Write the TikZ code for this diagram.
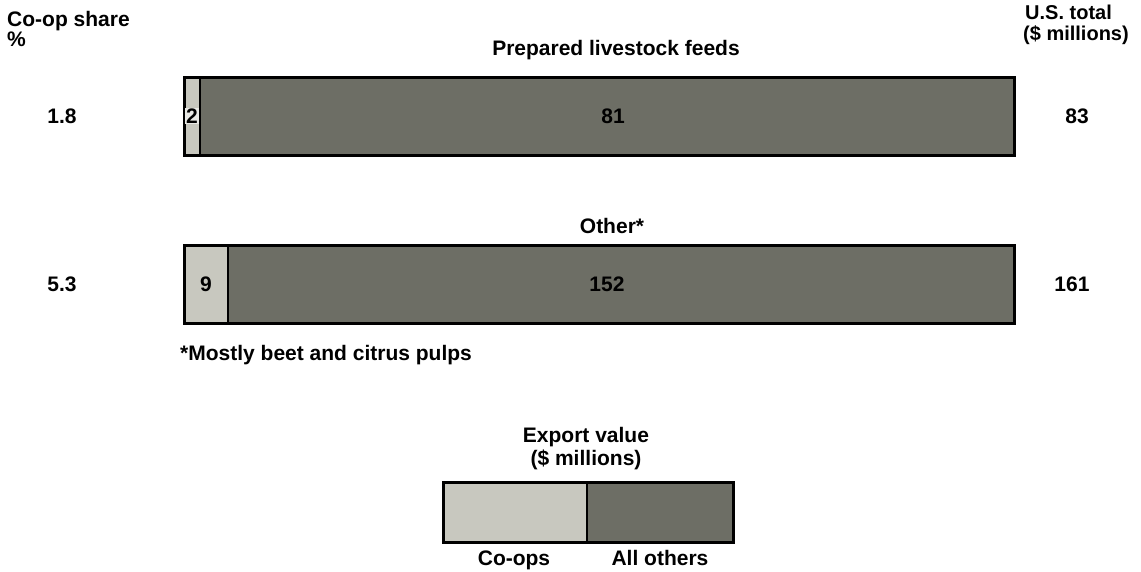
\documentclass[tikz,border=0pt]{standalone}
\usepackage{fontspec}
\setmainfont{Liberation Sans}
\usetikzlibrary{positioning}
\definecolor{coopgray}{HTML}{C8C8BF}
\definecolor{othergray}{HTML}{6D6E65}

\begin{document}
\begin{tikzpicture}[x=1pt, y=-1pt,
  font=\fontsize{21}{18}\selectfont\bfseries,
  seg/.style={rectangle, draw=black, line width=1.5pt, fill=#1, inner sep=0pt, outer sep=0pt, anchor=west, minimum height=78pt},
  frame/.style={rectangle, draw=black, line width=3pt, inner sep=0pt, outer sep=0pt, anchor=west, minimum height=#1},
  txt/.style={inner sep=0pt}
]
  \useasboundingbox[fill=white] (0,0) rectangle (1141,571);

  % headings
  \node[txt, anchor=north west, align=left] (share) at (7,11) {Co-op share\\\%};
  \node[txt, anchor=base west, font=\fontsize{20}{18}\selectfont\bfseries] (total) at (1025,19) {U.S. total};
  \node[txt, anchor=base west, font=\fontsize{20}{18}\selectfont\bfseries] (millions) at (1023,40) {(\$ millions)};

  % prepared livestock feeds
  \node[txt] (feeds) at (616,50) {Prepared livestock feeds};
  \node[seg=coopgray, minimum width=16pt] (coop1) at (184,116) {};
  \node[seg=othergray, minimum width=814pt, right=0pt of coop1] (rest1) {};
  \node[frame=78pt, minimum width=830pt] (bar1) at (184,116) {};
  \node[txt, fill=coopgray!40, inner sep=1pt] (c1) at (coop1) {2};
  \node[txt] (r1) at (613,116) {81};
  \node[txt] (s1) at (62,116) {1.8};
  \node[txt] (t1) at (1077,116) {83};

  % other feeds
  \node[txt] (other) at (612,226) {Other*};
  \node[seg=coopgray, minimum width=44pt] (coop2) at (184,284) {};
  \node[seg=othergray, minimum width=786pt, right=0pt of coop2] (rest2) {};
  \node[frame=78pt, minimum width=830pt] (bar2) at (184,284) {};
  \node[txt] (c2) at (coop2) {9};
  \node[txt] (r2) at (607,284) {152};
  \node[txt] (s2) at (62,284) {5.3};
  \node[txt] (t2) at (1072,284) {161};
  \node[txt, anchor=west] (note) at (180,355) {*Mostly beet and citrus pulps};

  % key
  \node[txt, align=center, font=\fontsize{21}{23}\selectfont\bfseries] (key) at (586,449) {Export value\\(\$ millions)};
  \node[seg=coopgray, minimum width=144pt, minimum height=60pt] (kcoop) at (443,512) {};
  \node[seg=othergray, minimum width=146pt, minimum height=60pt, right=0pt of kcoop] (krest) {};
  \node[frame=60pt, minimum width=290pt] (kbox) at (443,512) {};
  \node[txt, anchor=base] (lcoop) at (514,565) {Co-ops};
  \node[txt, anchor=base] (lrest) at (660,565) {All others};
\end{tikzpicture}
\end{document}
